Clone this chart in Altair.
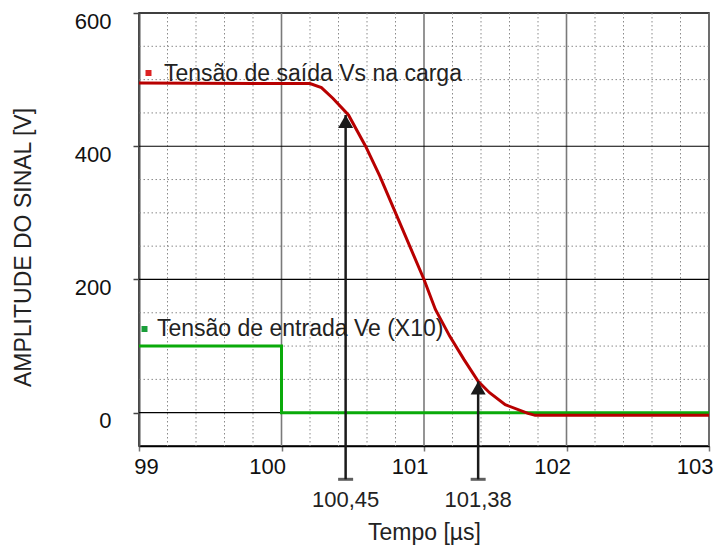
import altair as alt
import pandas as pd

# ---- data ----
red_x = [99, 100.2, 100.28, 100.36, 100.47, 100.59, 100.69, 100.81, 101.0, 101.08, 101.18,
         101.28, 101.38, 101.46, 101.57, 101.73, 101.78, 103]
red_y = [495, 494, 488, 472, 447, 400, 355, 295, 200, 155, 115, 80, 47, 30, 12, -1, -4, -4]

green_x = [99, 100, 103]
green_y = [100, 0, 0]

arrow_x = [100.45, 101.38]
arrow_tip = [447, 47]
arrow_base = [-100, -100]
arrow_labels = ["100,45", "101,38"]

x_ticks = [99, 100, 101, 102, 103]
y_ticks = [0, 200, 400, 600]
x_major_grid = [100, 101, 102, 103]
y_major_grid = [0, 200, 400]
x_minor_grid = [99.2, 99.4, 99.6, 99.8, 100.2, 100.4, 100.6, 100.8, 101.2, 101.4,
                101.6, 101.8, 102.2, 102.4, 102.6, 102.8]
y_minor_grid = [50, 100, 150, 250, 300, 350, 450, 500, 550]

legend_labels = ["Tensão de saída Vs na carga", "Tensão de entrada Ve (X10)"]

FONT = "Liberation Sans"

xs = alt.Scale(domain=[99, 103], nice=False, zero=False)
ys = alt.Scale(domain=[-50, 600], nice=False, zero=False)

xaxis = alt.Axis(values=x_ticks, format="d", title="Tempo [µs]", titleFont=FONT,
                 titleFontSize=23, titleFontWeight="normal", titleColor="#222",
                 titleY=86, titleBaseline="middle",
                 labelFont=FONT, labelFontSize=22, labelColor="#111",
                 labelAlign={"condition": {"test": "datum.value == 99", "value": "center"},
                             "value": "right"},
                 labelOffset={"condition": {"test": "datum.value == 99", "value": 7},
                              "value": 4},
                 labelPadding=5,
                 labelOverlap=False, labelBound=False,
                 tickSize=5, tickColor="#777", tickWidth=1.5,
                 domainColor="#000", domainWidth=1.5, grid=False)
yaxis = alt.Axis(values=y_ticks, format="d", title="AMPLITUDE DO SINAL [V]", titleFont=FONT,
                 titleFontSize=23, titleFontWeight="normal", titleColor="#222",
                 titleX=-116, titleY=234, titleAngle=-90, titleAlign="center",
                 titleBaseline="middle",
                 labelFont=FONT, labelFontSize=22, labelColor="#111",
                 labelPadding=22, labelOffset=8, labelOverlap=False, labelBound=False,
                 tickSize=6, tickColor="#444", tickWidth=1.5,
                 domainColor="#555", domainWidth=2, grid=False)

X = alt.X("x:Q", scale=xs, axis=xaxis)
Y = alt.Y("y:Q", scale=ys, axis=yaxis)

minor_x = alt.Chart(pd.DataFrame({"x": x_minor_grid})).mark_rule(
    color="#8a8a8a", strokeWidth=1, strokeDash=[1.5, 2.5]).encode(x=X)
minor_y = alt.Chart(pd.DataFrame({"y": y_minor_grid})).mark_rule(
    color="#8a8a8a", strokeWidth=1, strokeDash=[1.5, 2.5]).encode(y=Y)
major_x = alt.Chart(pd.DataFrame({"x": x_major_grid})).mark_rule(
    color="#7a7a7a", strokeWidth=1.6).encode(x=X)
major_y = alt.Chart(pd.DataFrame({"y": y_major_grid})).mark_rule(
    color="#000000", strokeWidth=1.2).encode(y=Y)

green = alt.Chart(pd.DataFrame({"x": green_x, "y": green_y})).mark_line(
    color="#0aaa0a", strokeWidth=3, interpolate="step-after").encode(x=X, y=Y)
red = alt.Chart(pd.DataFrame({"x": red_x, "y": red_y})).mark_line(
    color="#b80000", strokeWidth=3).encode(x=X, y=Y)

arrows_df = pd.DataFrame({"x": arrow_x, "y": arrow_base, "y2": arrow_tip,
                          "tip": arrow_tip, "label": arrow_labels})
shaft = alt.Chart(arrows_df).mark_rule(color="#1a1a1a", strokeWidth=2.5).encode(
    x=X, y=Y, y2="y2:Q")
base_bar = alt.Chart(arrows_df).mark_tick(
    color="#1a1a1a", orient="horizontal", size=15, thickness=3).encode(x=X, y=Y)
head = alt.Chart(arrows_df).mark_point(
    shape="triangle-up", filled=True, size=225, color="#1a1a1a", opacity=1,
    yOffset=6.5).encode(x=X, y=alt.Y("tip:Q", scale=ys, axis=yaxis))
arrow_text = alt.Chart(arrows_df).mark_text(
    font=FONT, fontSize=22, color="#222", dy=21, baseline="middle", align="center").encode(
    x=X, y=Y, text="label:N")

leg_df = pd.DataFrame({"label": legend_labels})
leg_red_sq = alt.Chart(leg_df).transform_filter(alt.datum.label == legend_labels[0]).mark_square(
    color="#dd2222", size=36, opacity=1).encode(x=alt.value(9.5), y=alt.value(60))
leg_red_tx = alt.Chart(leg_df).transform_filter(alt.datum.label == legend_labels[0]).mark_text(
    font=FONT, fontSize=23, color="#222", align="left", baseline="alphabetic").encode(
    x=alt.value(25), y=alt.value(68), text="label:N")
leg_grn_sq = alt.Chart(leg_df).transform_filter(alt.datum.label == legend_labels[1]).mark_square(
    color="#1a9e3a", size=36, opacity=1).encode(x=alt.value(5.5), y=alt.value(316))
leg_grn_tx = alt.Chart(leg_df).transform_filter(alt.datum.label == legend_labels[1]).mark_text(
    font=FONT, fontSize=23, color="#222", align="left", baseline="alphabetic").encode(
    x=alt.value(18), y=alt.value(323), text="label:N")

chart = alt.layer(
    minor_x, minor_y, major_x, major_y,
    leg_red_tx, leg_grn_tx,
    green, red, shaft, base_bar, head, arrow_text,
    leg_red_sq, leg_grn_sq,
).properties(
    width=570, height=433,
    autosize=alt.AutoSizeParams(type="none"),
    padding={"left": 139, "top": 13, "right": 8, "bottom": 100},
    background="white",
).configure_view(stroke="#000000", strokeWidth=1.5)

chart.save("out.html", embed_options={"renderer": "svg", "actions": False})
